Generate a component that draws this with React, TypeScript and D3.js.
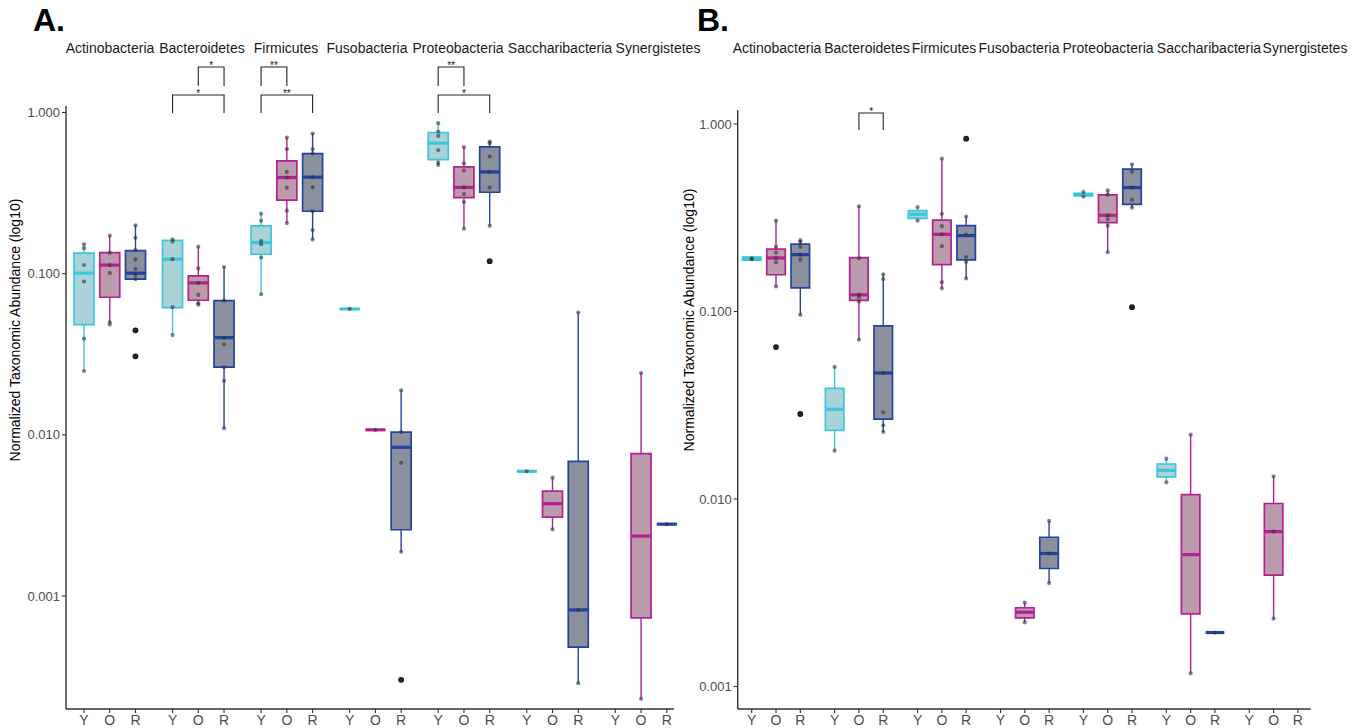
import React from "react";
import * as d3 from "d3";

const phyla = ["Actinobacteria", "Bacteroidetes", "Firmicutes", "Fusobacteria", "Proteobacteria", "Saccharibacteria", "Synergistetes"];
const groups = ["Y", "O", "R"];
const yTicks = [1, 0.1, 0.01, 0.001];

type Stat = number[] | null;
// each stat: [lower whisker, Q1, median, Q3, upper whisker]

// ---------- Panel A ----------
const statsA: Stat[][] = [
  [[0.0249, 0.0483, 0.1007, 0.134, 0.1525], [0.049, 0.0714, 0.113, 0.135, 0.172], [0.0924, 0.0924, 0.1007, 0.139, 0.1995]],
  [[0.0416, 0.0616, 0.123, 0.161, 0.163], [0.0643, 0.0684, 0.0877, 0.0969, 0.147], [0.011, 0.0263, 0.0401, 0.068, 0.11]],
  [[0.0745, 0.132, 0.156, 0.198, 0.2355], [0.206, 0.286, 0.395, 0.501, 0.699], [0.163, 0.244, 0.397, 0.556, 0.741]],
  [[0.0604, 0.0604, 0.0604, 0.0604, 0.0604], [0.01074, 0.01074, 0.01074, 0.01074, 0.01074], [0.00188, 0.002577, 0.00837, 0.01038, 0.0189]],
  [[0.473, 0.51, 0.645, 0.751, 0.859], [0.19, 0.296, 0.343, 0.46, 0.609], [0.198, 0.32, 0.428, 0.612, 0.66]],
  [[0.00594, 0.00594, 0.00594, 0.00594, 0.00594], [0.00259, 0.00309, 0.00374, 0.00448, 0.00542], [0.000288, 0.000482, 0.00082, 0.00685, 0.0574]],
  [null, [0.00023, 0.000731, 0.002355, 0.00765, 0.0242], [0.00279, 0.00279, 0.00279, 0.00279, 0.00279]],
];
const pointsA: number[][][] = [
  [[0.1525, 0.144, 0.113, 0.0894, 0.0395, 0.0249], [0.172, 0.135, 0.113, 0.101, 0.0499, 0.0483], [0.1995, 0.167, 0.14, 0.1225, 0.107, 0.098, 0.0924, 0.0445, 0.0307]],
  [[0.163, 0.158, 0.123, 0.062, 0.0416], [0.147, 0.1077, 0.0877, 0.0738, 0.0655, 0.0643], [0.11, 0.068, 0.0401, 0.0364, 0.0263, 0.0216, 0.011]],
  [[0.2355, 0.213, 0.16, 0.1525, 0.126, 0.0745], [0.699, 0.592, 0.428, 0.395, 0.342, 0.246, 0.206], [0.741, 0.592, 0.556, 0.397, 0.344, 0.244, 0.1865, 0.163]],
  [[0.0604], [0.01074], [0.0189, 0.0104, 0.0067, 0.00188, 0.000302]],
  [[0.859, 0.762, 0.716, 0.584, 0.489, 0.473], [0.609, 0.484, 0.436, 0.343, 0.312, 0.278, 0.19], [0.66, 0.645, 0.533, 0.428, 0.342, 0.198, 0.1196]],
  [[0.00594], [0.00542, 0.00259], [0.0574, 0.00082, 0.000288]],
  [[], [0.0242, 0.00023], [0.00279]],
];
const outliersA: number[][][] = [
  [[], [], [0.0445, 0.0307]],
  [[], [], []],
  [[], [], []],
  [[], [], [0.000302]],
  [[], [], [0.1196]],
  [[], [], []],
  [[], [], []],
];
// significance: [facet, group from, group to, level (0 inner/1 outer), label]
const sigA: [number, number, number, number, string][] = [
  [1, 1, 2, 0, "*"], [1, 0, 2, 1, "*"],
  [2, 0, 1, 0, "**"], [2, 0, 2, 1, "**"],
  [4, 0, 1, 0, "**"], [4, 0, 2, 1, "*"],
];

// ---------- Panel B ----------
const statsB: Stat[][] = [
  [[0.187, 0.188, 0.192, 0.195, 0.196], [0.136, 0.157, 0.193, 0.215, 0.305], [0.096, 0.1337, 0.201, 0.2287, 0.24]],
  [[0.0181, 0.0232, 0.0301, 0.0389, 0.0506], [0.0707, 0.1145, 0.1227, 0.194, 0.364], [0.0228, 0.0267, 0.047, 0.0839, 0.158]],
  [[0.305, 0.314, 0.33, 0.345, 0.36], [0.133, 0.178, 0.258, 0.307, 0.653], [0.15, 0.1885, 0.254, 0.287, 0.321]],
  [null, [0.0022, 0.00232, 0.00249, 0.00263, 0.0028], [0.00356, 0.00426, 0.00512, 0.00625, 0.00764]],
  [[0.41, 0.413, 0.42, 0.427, 0.434], [0.207, 0.298, 0.326, 0.419, 0.443], [0.358, 0.373, 0.458, 0.574, 0.61]],
  [[0.01228, 0.01311, 0.01422, 0.01537, 0.0164], [0.001175, 0.00244, 0.00505, 0.01055, 0.02204], [0.00194, 0.00194, 0.00194, 0.00194, 0.00194]],
  [null, [0.0023, 0.00393, 0.0067, 0.00946, 0.0132], null],
];
const pointsB: number[][][] = [
  [[0.192, 0.19], [0.305, 0.221, 0.206, 0.193, 0.183, 0.136, 0.0646], [0.24, 0.235, 0.221, 0.201, 0.189, 0.096, 0.0284]],
  [[0.0506, 0.0181], [0.364, 0.192, 0.123, 0.119, 0.113, 0.0707], [0.158, 0.149, 0.047, 0.029, 0.0247, 0.0228]],
  [[0.36, 0.305], [0.653, 0.332, 0.285, 0.258, 0.223, 0.1434, 0.133], [0.321, 0.257, 0.195, 0.184, 0.15, 0.835]],
  [[], [0.0028, 0.0022], [0.00764, 0.00512, 0.00356]],
  [[0.434, 0.41], [0.443, 0.42, 0.326, 0.311, 0.287, 0.207], [0.61, 0.557, 0.458, 0.394, 0.358, 0.1055]],
  [[0.0164, 0.01228], [0.02204, 0.001175], [0.00194]],
  [[], [0.0132, 0.0067, 0.0023], []],
];
const outliersB: number[][][] = [
  [[], [0.0646], [0.0284]],
  [[], [], []],
  [[], [], [0.835]],
  [[], [], []],
  [[], [], [0.1055]],
  [[], [], []],
  [[], [], []],
];
const sigB: [number, number, number, number, string][] = [[1, 1, 2, 0, "*"]];

// ---------- styling ----------
const strokeCol: Record<string, string> = { Y: "#3cc6dc", O: "#b3228f", R: "#2343a0" };
const fillCol: Record<string, string> = { Y: "#a9d3d9", O: "#bb9aae", R: "#8b909f" };
const FONT = "'Liberation Sans', Arial, Helvetica, sans-serif";

type Cfg = {
  letter: string; letterX: number;
  axisX: number; top: number; bottom: number; right: number;
  y1: number; y001: number;
  facet0: number; facetStep: number; pad: number; catStep: number; boxW: number;
  labelCenters: number[]; titleX: number; titleY: number;
  sigTop: number[]; sigLeg: number[];
};

const cfgA: Cfg = {
  letter: "A.", letterX: 33,
  axisX: 66, top: 106, bottom: 709, right: 674,
  y1: 112.5, y001: 596,
  facet0: 66.5, facetStep: 88.55, pad: 17.5, catStep: 25.75, boxW: 20,
  labelCenters: [110, 202, 286, 367, 458, 560, 658], titleX: 20, titleY: 330,
  sigTop: [67, 95], sigLeg: [86, 113],
};
const cfgB: Cfg = {
  letter: "B.", letterX: 697,
  axisX: 737.7, top: 110, bottom: 709, right: 1310.7,
  y1: 124, y001: 686.5,
  facet0: 737.7, facetStep: 82.93, pad: 14, catStep: 24.3, boxW: 18.5,
  labelCenters: [777, 867, 944, 1019, 1108, 1209, 1305], titleX: 694, titleY: 320,
  sigTop: [113, 113], sigLeg: [130, 130],
};

function Panel({ cfg, stats, points, outliers, sig }: { cfg: Cfg; stats: Stat[][]; points: number[][][]; outliers: number[][][]; sig: [number, number, number, number, string][] }) {
  const y = d3.scaleLog().domain([0.001, 1]).range([cfg.y001, cfg.y1]);
  const fx = d3.scaleBand<string>().domain(phyla).range([cfg.facet0, cfg.facet0 + cfg.facetStep * phyla.length]).padding(0);
  const cx = d3.scalePoint<string>().domain(groups).range([cfg.pad, cfg.pad + 2 * cfg.catStep]);
  const X = (f: number, g: number) => (fx(phyla[f]) as number) + (cx(groups[g]) as number);
  const fmt = d3.format(".3f");
  const hw = cfg.boxW / 2;

  return (
    <g>
      <text x={cfg.letterX} y={31} fontFamily={FONT} fontWeight="bold" fontSize={32} fill="#000">{cfg.letter}</text>
      {phyla.map((p, i) => (
        <text key={p} x={cfg.labelCenters[i]} y={53} textAnchor="middle" fontFamily={FONT} fontSize={14} fill="#1a1a1a">{p}</text>
      ))}
      <text transform={`translate(${cfg.titleX},${cfg.titleY}) rotate(-90)`} textAnchor="middle" fontFamily={FONT} fontSize={14} fill="#000">Normalized Taxonomic Abundance (log10)</text>

      {/* boxes */}
      {stats.map((row, f) => row.map((s, g) => {
        if (!s) return null;
        const xc = X(f, g);
        const gr = groups[g];
        const [lo, q1, med, q3, hi] = s.map((v) => y(v));
        return (
          <g key={`b${f}-${g}`}>
            <line x1={xc} x2={xc} y1={hi} y2={q3} stroke={strokeCol[gr]} strokeWidth={1.4} />
            <line x1={xc} x2={xc} y1={q1} y2={lo} stroke={strokeCol[gr]} strokeWidth={1.4} />
            <path d={`M${xc - hw},${q3}H${xc + hw}V${q1}H${xc - hw}Z`} fill={fillCol[gr]} stroke={strokeCol[gr]} strokeWidth={1.7} />
            <line x1={xc - hw} x2={xc + hw} y1={med} y2={med} stroke={strokeCol[gr]} strokeWidth={3.2} />
          </g>
        );
      }))}

      {/* outliers */}
      {outliers.map((row, f) => row.map((vals, g) => vals.map((v, k) => (
        <circle key={`o${f}-${g}-${k}`} cx={X(f, g)} cy={y(v)} r={2.9} fill="#111" />
      ))))}

      {/* points */}
      {points.map((row, f) => row.map((vals, g) => vals.map((v, k) => (
        <circle key={`p${f}-${g}-${k}`} cx={X(f, g)} cy={y(v)} r={2.1} fill="#333" fillOpacity={0.6} />
      ))))}

      {/* axes */}
      <line x1={cfg.axisX} x2={cfg.axisX} y1={cfg.top} y2={cfg.bottom} stroke="#333" strokeWidth={1.4} />
      <line x1={cfg.axisX} x2={cfg.right} y1={cfg.bottom} y2={cfg.bottom} stroke="#333" strokeWidth={1.4} />
      {yTicks.map((t) => (
        <g key={t}>
          <line x1={cfg.axisX - 4} x2={cfg.axisX} y1={y(t)} y2={y(t)} stroke="#333" strokeWidth={1.1} />
          <text x={cfg.axisX - 6} y={y(t) + 4.5} textAnchor="end" fontFamily={FONT} fontSize={13} fill="#4d4d4d">{fmt(t)}</text>
        </g>
      ))}
      {phyla.map((p, f) => groups.map((g, gi) => (
        <g key={`x${f}-${gi}`}>
          <line x1={X(f, gi)} x2={X(f, gi)} y1={cfg.bottom} y2={cfg.bottom + 4} stroke="#333" strokeWidth={1.1} />
          <text x={X(f, gi)} y={cfg.bottom + 16} textAnchor="middle" fontFamily={FONT} fontSize={14} fill="#4d4d4d">{g}</text>
        </g>
      )))}

      {/* significance brackets */}
      {sig.map(([f, g0, g1, lvl, lab], i) => {
        const xa = X(f, g0), xb = X(f, g1);
        const top = cfg.sigTop[lvl], leg = cfg.sigLeg[lvl];
        return (
          <g key={`s${i}`}>
            <path d={`M${xa},${leg}V${top}H${xb}V${leg}`} fill="none" stroke="#222" strokeWidth={1.1} />
            <text x={(xa + xb) / 2} y={top + 1.5} textAnchor="middle" fontFamily={FONT} fontSize={10} fill="#111">{lab}</text>
          </g>
        );
      })}
    </g>
  );
}

export default function App() {
  return (
    <svg width={1360} height={728} style={{ position: "absolute", left: 0, top: 0, background: "#fff" }}>
      <rect x={0} y={0} width={1360} height={728} fill="#fff" />
      <Panel cfg={cfgA} stats={statsA} points={pointsA} outliers={outliersA} sig={sigA} />
      <Panel cfg={cfgB} stats={statsB} points={pointsB} outliers={outliersB} sig={sigB} />
    </svg>
  );
}
